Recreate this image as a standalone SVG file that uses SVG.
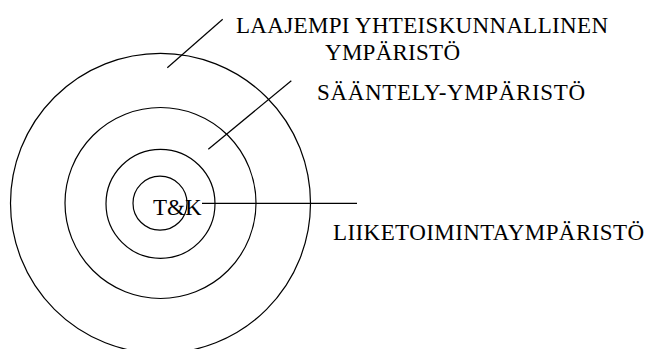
<svg xmlns="http://www.w3.org/2000/svg" width="649" height="349" viewBox="0 0 649 349">
<style>
.ring{fill:none;stroke:#000;stroke-width:1.2}
.ln{stroke:#000;stroke-width:1.2;fill:none}
text{font-family:"Liberation Serif","Times New Roman",serif;font-size:23px;fill:#000}
</style>
<rect width="649" height="349" fill="#fff"/>
<g id="ring-outer"><circle class="ring" cx="160.5" cy="203.3" r="150"/></g>
<g id="ring-2"><circle class="ring" cx="160.5" cy="203" r="95.5"/></g>
<g id="ring-3"><circle class="ring" cx="160.5" cy="203.8" r="54.5"/></g>
<g id="ring-inner"><circle class="ring" cx="160" cy="203.2" r="27"/></g>
<g id="connectors">
<line class="ln" x1="167.3" y1="67.7" x2="222.7" y2="19.3"/>
<line class="ln" x1="208.3" y1="149.3" x2="291.3" y2="80.7"/>
<line class="ln" x1="202" y1="203.3" x2="357" y2="203.3"/>
</g>
<g id="label-tk"><text x="153" y="215" textLength="48.5" lengthAdjust="spacing">T&amp;K</text></g>
<g id="label-laajempi"><text x="236" y="33" textLength="372" lengthAdjust="spacing">LAAJEMPI YHTEISKUNNALLINEN</text><text x="325" y="60" textLength="135" lengthAdjust="spacing">YMPÄRISTÖ</text></g>
<g id="label-saantely"><text x="317" y="100" textLength="268" lengthAdjust="spacing">SÄÄNTELY-YMPÄRISTÖ</text></g>
<g id="label-liiketoiminta"><text x="333" y="240" textLength="311" lengthAdjust="spacing">LIIKETOIMINTAYMPÄRISTÖ</text></g>
</svg>
